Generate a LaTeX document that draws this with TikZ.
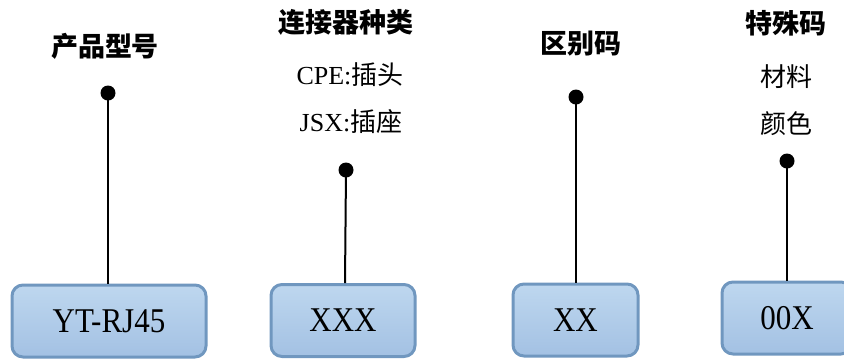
\documentclass[tikz,border=0pt]{standalone}
\usepackage{fontspec}
\setmainfont{Liberation Serif}
\newfontfamily\cjk{Noto Sans CJK SC}
\definecolor{boxtop}{RGB}{190,215,239}
\definecolor{boxbot}{RGB}{163,193,227}
\definecolor{boxline}{RGB}{112,151,191}
\newcommand{\tallcode}[1]{\scalebox{1}[1.12]{#1}}
\begin{document}
\begin{tikzpicture}[x=1pt,y=-1pt,
  title/.style={font=\cjk\bfseries\fontsize{27}{27}\selectfont, inner sep=0pt},
  sub/.style={font=\fontsize{26}{26}\selectfont, inner sep=0pt},
  pin/.style={circle, fill=black, inner sep=0pt, minimum size=15pt},
  stem/.style={line width=2pt, black},
  codebox/.style={draw=boxline, line width=3pt, rounded corners=11pt,
    top color=boxtop, bottom color=boxbot, minimum height=72pt,
    font=\fontsize{31}{31}\selectfont, inner sep=0pt}]
\useasboundingbox (0,0) rectangle (844,360);
\begin{scope}
\clip (0,0) rectangle (844,360);
% titles
\node[title] (t1) at (105,46) {产品型号};
\node[title] (t2) at (346,22) {连接器种类};
\node[sub] (s2a) at (350,75) {CPE:{\cjk 插头}};
\node[sub] (s2b) at (351,122) {JSX:{\cjk 插座}};
\node[title] (t3) at (581,44) {区别码};
\node[title] (t4) at (786,23) {特殊码};
\node[sub] (s4a) at (786,77) {\cjk 材料};
\node[sub] (s4b) at (786,124) {\cjk 颜色};
% boxes
\node[codebox, minimum width=194pt] (b1) at (109,321) {\tallcode{YT-RJ45}};
\node[codebox, minimum width=144pt] (b2) at (343,320.5) {\tallcode{XXX}};
\node[codebox, minimum width=125pt] (b3) at (575.5,320) {\tallcode{XX}};
\node[codebox, minimum width=130pt] (b4) at (787,318) {\tallcode{00X}};
% pins
\node[pin] (d1) at (108,93) {};
\node[pin] (d2) at (346,170) {};
\node[pin] (d3) at (576,97) {};
\node[pin] (d4) at (787,161) {};
% stems
\draw[stem] (d1.center) -- (d1 |- b1.north);
\draw[stem] (d2.center) -- (345,283);
\draw[stem] (d3.center) -- (d3 |- b3.north);
\draw[stem] (d4.center) -- (d4 |- b4.north);
\end{scope}
\end{tikzpicture}
\end{document}
